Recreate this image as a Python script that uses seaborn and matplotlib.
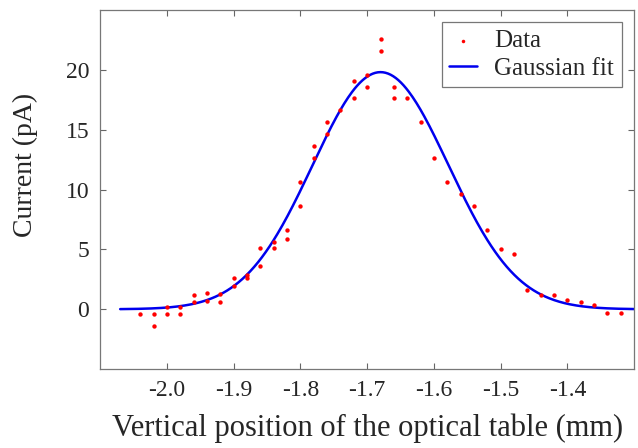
import numpy as np
import matplotlib
matplotlib.use("Agg")
import matplotlib.pyplot as plt
import seaborn as sns

# measured points (mm, pA)
position = [-2.04, -2.02, -2.02, -2.00, -2.00, -1.98, -1.98, -1.96, -1.96,
            -1.94, -1.94, -1.92, -1.92, -1.90, -1.90, -1.88, -1.88, -1.86,
            -1.86, -1.84, -1.84, -1.82, -1.82, -1.80, -1.80, -1.78, -1.78,
            -1.76, -1.76, -1.74, -1.72, -1.72, -1.70, -1.70, -1.68, -1.68,
            -1.66, -1.66, -1.64, -1.62, -1.60, -1.58, -1.56, -1.54, -1.52,
            -1.50, -1.48, -1.46, -1.44, -1.42, -1.40, -1.38, -1.36, -1.34,
            -1.32]
current = [-0.4, -0.4, -1.4, 0.15, -0.4, 0.15, -0.4, 1.2, 0.6,
           1.4, 0.65, 1.3, 0.6, 2.6, 1.95, 2.9, 2.6, 5.1,
           3.6, 5.65, 5.1, 6.65, 5.85, 10.65, 8.65, 13.65, 12.65,
           15.65, 14.65, 16.65, 19.1, 17.6, 19.6, 18.6, 22.6, 21.6,
           18.6, 17.6, 17.6, 15.6, 12.65, 10.65, 9.65, 8.65, 6.65,
           5.05, 4.6, 1.6, 1.15, 1.15, 0.8, 0.6, 0.35, -0.3,
           -0.35]

# gaussian fit parameters
fit_amp = 19.8
fit_center = -1.680
fit_sigma = 0.102
fit_range = (-2.07, -1.30)

x_ticks = [-2.0, -1.9, -1.8, -1.7, -1.6, -1.5, -1.4]
y_ticks = [0, 5, 10, 15, 20]

sns.set_style("ticks")
plt.rcParams['font.family'] = ['Liberation Serif', 'DejaVu Serif']

fig = plt.figure(figsize=(6.38, 4.48), dpi=100)
ax = fig.add_axes([0.157, 0.176, 0.837, 0.802])

xfit = np.linspace(fit_range[0], fit_range[1], 400)
yfit = fit_amp * np.exp(-(xfit - fit_center) ** 2 / (2 * fit_sigma ** 2))

sns.scatterplot(x=position, y=current, ax=ax, color="red", s=10,
                linewidth=0, label="Data", zorder=3)
sns.lineplot(x=xfit, y=yfit, ax=ax, color="#0000ee", linewidth=1.8,
             label="Gaussian fit", zorder=2)

ax.set_xlim(-2.1, -1.3)
ax.set_ylim(-5, 25)
ax.set_xticks(x_ticks)
ax.set_xticklabels([f"{t:.1f}" for t in x_ticks])
ax.set_yticks(y_ticks)
ax.tick_params(direction="in", top=True, right=True, labelsize=17,
               length=4, color="#666666", pad=8)
for s in ax.spines.values():
    s.set_color("#777777")
    s.set_linewidth(0.9)

ax.set_xlabel("Vertical position of the optical table (mm)", fontsize=22, labelpad=9)
ax.set_ylabel("Current (pA)", fontsize=20)
ax.yaxis.set_label_coords(-0.116, 0.568)

leg = ax.legend(loc="upper right", fontsize=18, frameon=True, fancybox=False,
                framealpha=1, edgecolor="#777777", handlelength=1.1,
                borderpad=0.3, labelspacing=0.2, handletextpad=0.7,
                borderaxespad=0.5, markerscale=0.8)
leg.get_frame().set_linewidth(0.9)

fig.savefig("out.png", dpi=100)
